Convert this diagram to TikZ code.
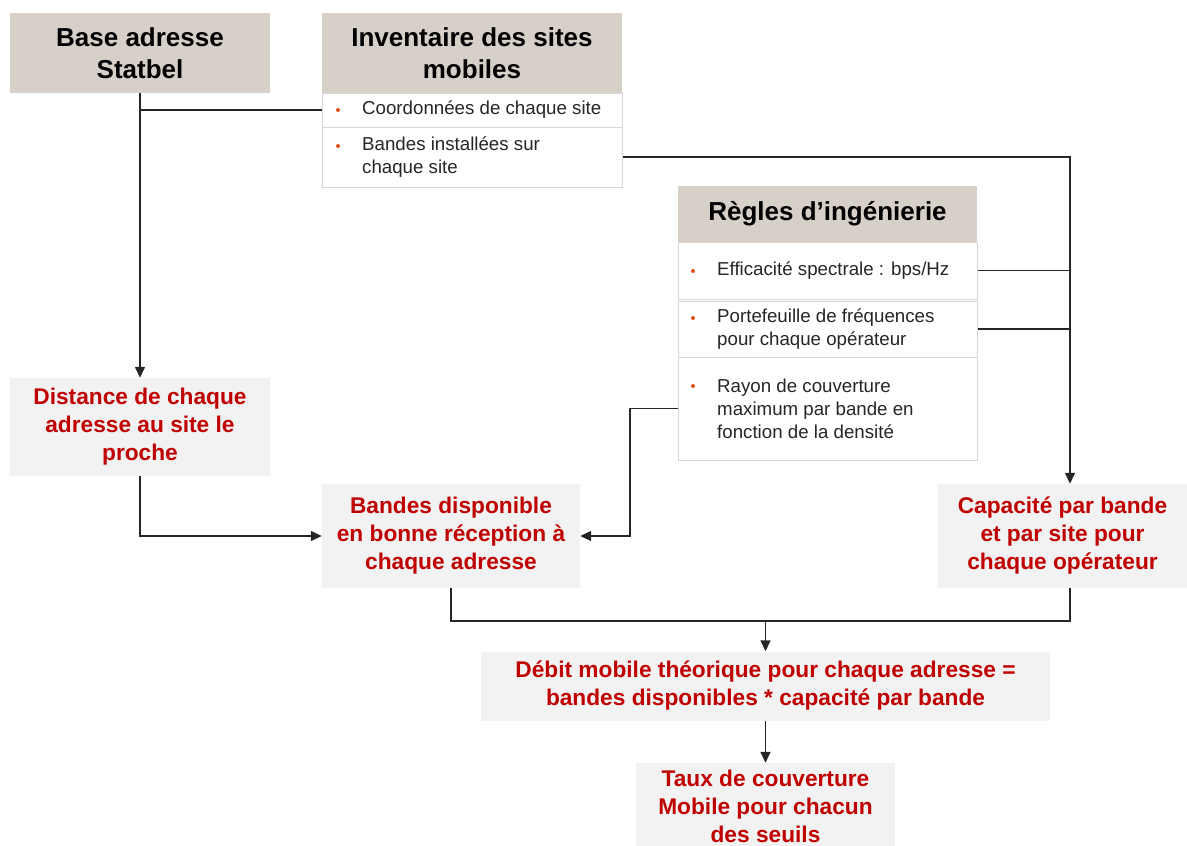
\documentclass[tikz,border=0pt]{standalone}
\usepackage{fontspec}
\setmainfont{Liberation Sans}
\usetikzlibrary{arrows.meta,calc}
\definecolor{hdrfill}{HTML}{D7D0C9}
\definecolor{redfill}{HTML}{F2F2F2}
\definecolor{redtext}{HTML}{C00000}
\definecolor{bul}{HTML}{E0501E}
\definecolor{itemline}{HTML}{DAD5D0}
\definecolor{conn}{HTML}{262626}
\begin{document}
\begin{tikzpicture}[x=1pt,y=-1pt,
  hdr/.style={fill=hdrfill,inner sep=0pt,align=center,
    font=\fontsize{26}{32}\selectfont\bfseries},
  redbox/.style={fill=redfill,inner sep=0pt,align=center,text=redtext,
    font=\fontsize{22.7}{28}\selectfont\bfseries},
  itembox/.style={draw=itemline,line width=1pt,fill=white,inner sep=0pt},
  itemtext/.style={anchor=west,inner sep=0pt,align=left,
    font=\fontsize{18.7}{23}\selectfont,text=black!85},
  bulletdot/.style={circle,fill=bul,inner sep=0pt,minimum size=4pt},
  line/.style={draw=conn,line width=1.4pt},
  arr/.style={line,-{Triangle[length=11pt,width=10pt]}}
]
\useasboundingbox (0,0) rectangle (1187,846);

% coordinates for vertical connector lines
\coordinate (vx) at (1070,0);
\coordinate (vx2) at (630,0);

% Base adresse
\node[hdr,minimum width=260,minimum height=80] (base) at (140,53) {Base adresse\\Statbel};

% Inventaire des sites mobiles
\node[hdr,minimum width=300,minimum height=80] (inv) at (472,53) {Inventaire des sites\\mobiles};
\node[itembox,minimum width=300,minimum height=34] (inv1) at (472,110) {};
\node[itembox,minimum width=300,minimum height=60] (inv2) at (472,157) {};
\node[itemtext] (inv1t) at (362,110) {Coordonnées de chaque site};
\node[itemtext] (inv2t) at (362,157.5) {Bandes installées sur\\chaque site};
\node[bulletdot] (inv1b) at (338,110) {};
\node[bulletdot] (inv2b) at (338,146) {};

% Regles d'ingenierie
\node[hdr,minimum width=299,minimum height=56] (reg) at (827.5,214) {Règles d’ingénierie};
\node[itembox,minimum width=299,minimum height=57] (r1) at (827.5,270.5) {};
\node[itembox,minimum width=299,minimum height=56] (r2) at (827.5,329) {};
\node[itembox,minimum width=299,minimum height=103] (r3) at (827.5,408.5) {};
\node[itemtext] (r1t) at (717,271) {Efficacité spectrale : bps/Hz};
\node[itemtext] (r2t) at (717,329) {Portefeuille de fréquences\\pour chaque opérateur};
\node[itemtext] (r3t) at (717,409) {Rayon de couverture\\maximum par bande en\\fonction de la densité};
\node[bulletdot] (r1b) at (693,271) {};
\node[bulletdot] (r2b) at (693,318) {};
\node[bulletdot] (r3b) at (693,386) {};

% Red result boxes
\node[redbox,minimum width=260,minimum height=98] (dist) at (140,427) {Distance de chaque\\adresse au site le\\proche};
\node[redbox,minimum width=258,minimum height=104] (band) at (451,536) {Bandes disponible\\en bonne réception à\\chaque adresse};
\node[redbox,minimum width=249,minimum height=104] (cap) at (1062.5,536) {Capacité par bande\\et par site pour\\chaque opérateur};
\node[redbox,minimum width=569,minimum height=69] (deb) at (765.5,686) {Débit mobile théorique pour chaque adresse =\\bandes disponibles * capacité par bande};
\node[redbox,minimum width=259,minimum height=86] (taux) at (765.5,806) {Taux de couverture\\Mobile pour chacun\\des seuils};

% Connectors
\draw[arr] (base.south) -- (dist.north);
\draw[line] (base.south |- inv1.west) -- (inv1.west);
\draw[arr] (inv2.east) -- (inv2.east -| vx) -- (cap.north -| vx);
\draw[line] (r1.east) -- (r1.east -| vx);
\draw[line] (r2.east) -- (r2.east -| vx);
\draw[arr] (r3.west) -- (r3.west -| vx2) |- (band.east);
\draw[arr] (dist.south) |- (band.west);
\coordinate (jn) at (765.5,621);
\draw[line] (band.south) |- (jn) -| (cap.south -| vx);
\draw[arr] (jn) -- (deb.north);
\draw[arr] (deb.south) -- (taux.north);
\end{tikzpicture}
\end{document}
